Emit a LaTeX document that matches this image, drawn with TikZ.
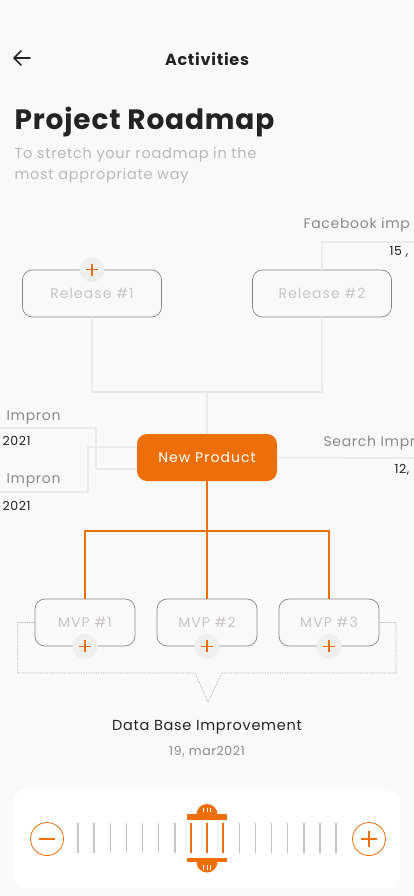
\documentclass[tikz,border=0pt]{standalone}
\usepackage{fontspec}
\setmainfont{Poppins}
\newfontfamily\headfont[LetterSpace=3]{Poppins}
\newfontfamily\titlefont[LetterSpace=4.5]{Poppins}
\newfontfamily\bodyfont[LetterSpace=5]{Poppins}
\newfontfamily\boxfont[LetterSpace=7.5]{Poppins}
\usetikzlibrary{positioning, calc}
\definecolor{bgpage}{HTML}{F9F9F9}
\definecolor{brand}{HTML}{EE6F08}
\definecolor{boxline}{HTML}{8C8482}
\definecolor{boxtext}{HTML}{C9C5C4}
\definecolor{linkgray}{HTML}{EBEBEB}
\definecolor{ink}{HTML}{232323}
\definecolor{subgray}{HTML}{B9B9BE}
\definecolor{sidegray}{HTML}{8E8988}
\definecolor{btngray}{HTML}{EFEFEF}
\definecolor{tickgray}{HTML}{C8C4C4}

\begin{document}
\begin{tikzpicture}[
  x=1pt, y=-1pt,
  stagebox/.style={draw=boxline, fill=bgpage, rounded corners=10pt, line width=0.7pt,
    minimum height=47pt, text=boxtext, font=\boxfont\fontsize{14}{16}\selectfont},
  releasebox/.style={stagebox, minimum width=139pt},
  mvpbox/.style={stagebox, minimum width=100pt},
  hubbox/.style={fill=brand, rounded corners=10pt, minimum width=140pt, minimum height=47pt,
    text=white, font=\boxfont\fontsize{14}{16}\selectfont},
  addbtn/.style={circle, fill=btngray, minimum size=25pt, inner sep=0pt,
    path picture={\draw[brand, line width=1.4pt]
      ([xshift=-6pt]path picture bounding box.center) -- ([xshift=6pt]path picture bounding box.center)
      ([yshift=-6pt]path picture bounding box.center) -- ([yshift=6pt]path picture bounding box.center);}},
  zoombtn/.style={circle, draw=brand, line width=0.8pt, minimum size=33pt, inner sep=0pt},
  sidelabel/.style={anchor=base west, text=sidegray, font=\bodyfont\fontsize{14}{16}\selectfont},
  sidedate/.style={anchor=base west, text=ink, font=\bodyfont\fontsize{12.5}{14}\selectfont},
  link/.style={linkgray, line width=1.5pt},
  mainlink/.style={brand, line width=2pt},
  bracket/.style={gray!70, densely dotted, line width=0.7pt},
]
  \clip (0,0) rectangle (414,896);
  \fill[bgpage] (0,0) rectangle (414,896);

  % Header
  \draw[ink, line width=1.6pt, line cap=round, line join=round]
    (21,51) -- (14,58) -- (21,65) (14,58) -- (30,58);
  \node[text=ink, font=\titlefont\fontsize{16}{18}\selectfont\bfseries] (title) at (207,59) {Activities};
  \node[anchor=base west, text=ink, font=\headfont\fontsize{28}{32}\selectfont\bfseries] (heading) at (11,130) {Project Roadmap};
  \node[anchor=base west, text=subgray, font=\bodyfont\fontsize{14.5}{16}\selectfont] (sub1) at (11,159) {To stretch your roadmap in the};
  \node[anchor=base west, text=subgray, font=\bodyfont\fontsize{14.5}{16}\selectfont] (sub2) at (11,179) {most appropriate way};

  % Releases and hub
  \node[releasebox] (rel1) at (92,293.5) {Release \#1};
  \node[releasebox] (rel2) at (322,293.5) {Release \#2};
  \node[addbtn] (addrel) at (rel1.north) {};
  \node[hubbox] (hub) at (207,457.5) {New Product};

  % Side items (cut off by the screen)
  \node[sidelabel] (fb) at (300,228.5) {Facebook imp};
  \node[sidedate] (fbdate) at (386,255) {15 ,};
  \node[sidelabel] (imp1) at (3,420) {Impron};
  \node[sidedate] (imp1date) at (-1,445.5) {2021};
  \node[sidelabel] (imp2) at (3,483.5) {Impron};
  \node[sidedate] (imp2date) at (-1,510) {2021};
  \node[sidelabel] (srch) at (320,446) {Search Impr};
  \node[sidedate] (srchdate) at (391,473) {12,};

  % Grey links
  \coordinate (topbus) at (207,392);
  \coordinate (fbend) at (414,242);
  \coordinate (srchend) at (414,458);
  \coordinate (imp1end) at (0,428);
  \coordinate (imp2end) at (0,492);
  \draw[link] (rel1.south) |- (topbus) -| (rel2.south);
  \draw[link] (topbus) -- (hub.north);
  \draw[link] (rel2.north) |- (fbend);
  \draw[link] (hub.east) -- (srchend);
  \draw[link] (imp1end) -| ($(hub.west)+(-41,11.5)$) -- ($(hub.west)+(0,11.5)$);
  \draw[link] (imp2end) -| ($(hub.west)+(-49,-10.5)$) -- ($(hub.west)+(0,-10.5)$);

  % MVPs
  \node[mvpbox] (mvp1) at (85,622.5) {MVP \#1};
  \node[mvpbox] (mvp2) at (207,622.5) {MVP \#2};
  \node[mvpbox] (mvp3) at (329,622.5) {MVP \#3};
  \foreach \m in {1,2,3}
    \node[addbtn] (addmvp\m) at (mvp\m.south) {};

  \coordinate (mvpbus) at (207,531);
  \draw[mainlink] (hub.south) -- (mvpbus);
  \draw[mainlink] (mvp1.north) |- (mvpbus) -| (mvp3.north);
  \draw[mainlink] (mvpbus) -- (mvp2.north);

  % Callout round the MVPs
  \coordinate (tip) at (208,702);
  \draw[bracket] (mvp1.west) -- ++(-17,0) |- (195,673) -- (tip) -- (222,673) -| (396,622.5) -- (mvp3.east);

  \node[anchor=base, text=ink, font=\bodyfont\fontsize{14.5}{16}\selectfont] (detail) at (207,730) {Data Base Improvement};
  \node[anchor=base, text=sidegray, font=\bodyfont\fontsize{12.5}{14}\selectfont] (detaildate) at (207,755.5) {19, mar2021};

  % Zoom slider
  \fill[white, rounded corners=10pt] (14,790) rectangle (400,888);
  \node[zoombtn] (zoomout) at (47,839) {};
  \node[zoombtn] (zoomin) at (369,839) {};
  \draw[brand, line width=1.6pt] ([xshift=-8pt]zoomout.center) -- ([xshift=8pt]zoomout.center);
  \draw[brand, line width=1.6pt] ([xshift=-8pt]zoomin.center) -- ([xshift=8pt]zoomin.center)
    ([yshift=-8pt]zoomin.center) -- ([yshift=8pt]zoomin.center);
  \foreach \i in {0,...,16}{
    \ifnum\i<7 \def\tc{tickgray}\else\ifnum\i>9 \def\tc{tickgray}\else\def\tc{brand}\fi\fi
    \draw[\tc, line width=1.5pt] (78+16.125*\i,823) -- (78+16.125*\i,853);
  }
  % handle
  \fill[brand] (186.7,814.3) rectangle (227.3,819.7);
  \fill[brand] (196.5,814.5) arc[start angle=180, end angle=0, radius=10.5pt] -- cycle;
  \fill[brand] (186.7,857.7) rectangle (227.3,862.3);
  \fill[brand] (196.5,862) arc[start angle=180, end angle=360, radius=10.5pt] -- cycle;
  \foreach \dx in {-3.5,0,3.5}{
    \draw[white, line width=0.8pt] (207+\dx,807.5) -- (207+\dx,812);
    \draw[white, line width=0.8pt] (207+\dx,865) -- (207+\dx,869.5);
  }
\end{tikzpicture}
\end{document}
